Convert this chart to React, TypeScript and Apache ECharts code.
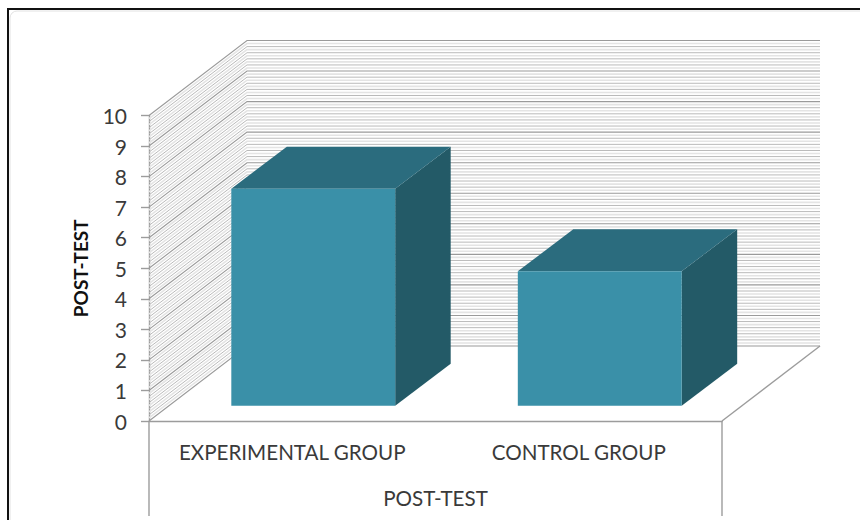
import React, { useEffect, useRef } from "react";
import * as echarts from "echarts";

const categories = ["EXPERIMENTAL GROUP", "CONTROL GROUP"];
const postTest = [7.1, 4.4];
const yTicks = [0, 1, 2, 3, 4, 5, 6, 7, 8, 9, 10];
const xAxisTitle = "POST-TEST";
const yAxisTitle = "POST-TEST";

// Oblique projection of the chart box: how far the back wall sits from the front plane.
const BOX_DX = 98;
const BOX_DY = -75;
// The columns stand inside the box, between the front plane and the back wall.
const BAR_INSET_DX = 21;
const BAR_INSET_DY = -15.3;
const BAR_DEPTH_DX = 55.5;
const BAR_DEPTH_DY = -42;
const BAR_WIDTH_RATIO = 0.572;

const FRONT_COLOR = "#3a90a8";
const TOP_COLOR = "#2b6c7e";
const SIDE_COLOR = "#235a67";
const TEXT_COLOR = "#3a3a3a";
const AXIS_COLOR = "#9c9c9c";

// Walls: one polyline per level, running along the side wall and then across the back wall.
function renderWallLevels(params: any, api: any) {
  const tick = api.value(1) as number;
  const left = params.coordSys.x;
  const right = left + params.coordSys.width;
  const children: any[] = [];
  const steps = tick === yTicks[yTicks.length - 1] ? 1 : 10;
  for (let k = 0; k < steps; k++) {
    const y = api.coord([0, tick + k / 10])[1];
    const major = k === 0;
    const stroke = major ? "#9a9a9a" : k % 2 === 0 ? "#bababa" : "#e4e4e4";
    const width = major ? 1.1 : k % 2 === 0 ? 1 : 1.6;
    children.push({
      type: "polyline",
      silent: true,
      shape: {
        points: [
          [left, y],
          [left + BOX_DX, y + BOX_DY],
          [right + BOX_DX, y + BOX_DY],
        ],
      },
      style: { fill: "none", stroke, lineWidth: width },
    });
  }
  return { type: "group", children };
}

// A column drawn as three faces: front, top and right side.
function renderColumn(_params: any, api: any) {
  const base = api.coord([api.value(0), 0]);
  const top = api.coord([api.value(0), api.value(1)]);
  const w = api.size([1, 0])[0] * BAR_WIDTH_RATIO;
  const x0 = base[0] + BAR_INSET_DX - w / 2;
  const x1 = x0 + w;
  const yb = base[1] + BAR_INSET_DY;
  const yt = top[1] + BAR_INSET_DY;
  const dx = BAR_DEPTH_DX;
  const dy = BAR_DEPTH_DY;
  return {
    type: "group",
    children: [
      {
        type: "polygon",
        shape: { points: [[x1, yt], [x1 + dx, yt + dy], [x1 + dx, yb + dy], [x1, yb]] },
        style: { fill: SIDE_COLOR },
      },
      {
        type: "polygon",
        shape: { points: [[x0, yt], [x0 + dx, yt + dy], [x1 + dx, yt + dy], [x1, yt]] },
        style: { fill: TOP_COLOR },
      },
      {
        type: "rect",
        shape: { x: x0, y: yt, width: w, height: yb - yt },
        style: { fill: FRONT_COLOR },
      },
    ],
  };
}

export default function App() {
  const ref = useRef<HTMLDivElement>(null);

  useEffect(() => {
    const chart = echarts.init(ref.current!, undefined, { renderer: "svg" });
    const line = (x1: number, y1: number, x2: number, y2: number) => ({
      type: "line",
      silent: true,
      z: 5,
      shape: { x1, y1, x2, y2 },
      style: { stroke: AXIS_COLOR, lineWidth: 1.4 },
    });
    chart.setOption({
      animation: false,
      backgroundColor: "#ffffff",
      textStyle: { fontFamily: "Lato" },
      grid: { left: 149, right: 138, top: 115.5, bottom: 99, containLabel: false },
      xAxis: {
        type: "category",
        data: categories,
        name: xAxisTitle,
        nameLocation: "middle",
        nameGap: 66,
        nameTextStyle: { fontSize: 20.6, color: TEXT_COLOR, fontFamily: "Lato" },
        axisLine: { show: true, lineStyle: { color: AXIS_COLOR, width: 1.4 } },
        axisTick: { show: false },
        axisLabel: { fontSize: 20.6, color: TEXT_COLOR, margin: 20, interval: 0, fontFamily: "Lato" },
      },
      yAxis: {
        type: "value",
        min: 0,
        max: 10,
        interval: 1,
        name: yAxisTitle,
        nameLocation: "middle",
        nameGap: 59,
        nameTextStyle: { fontSize: 19, fontWeight: "bold", color: "#111111", fontFamily: "Lato" },
        axisLine: { show: true, lineStyle: { color: AXIS_COLOR, width: 1.4 } },
        axisTick: { show: true, length: 8, lineStyle: { color: AXIS_COLOR, width: 1.4 } },
        axisLabel: { fontSize: 21, color: TEXT_COLOR, margin: 22, fontFamily: "Lato" },
        splitLine: { show: false },
      },
      series: [
        {
          type: "custom",
          name: "walls",
          silent: true,
          clip: false,
          z: 1,
          renderItem: renderWallLevels,
          encode: { x: 0, y: 1 },
          data: yTicks.map((t) => [0, t]),
        },
        {
          type: "custom",
          name: "POST-TEST",
          clip: false,
          z: 3,
          renderItem: renderColumn,
          encode: { x: 0, y: 1 },
          data: postTest.map((v, i) => [i, v]),
        },
      ],
      graphic: [
        // Outer frame, running off the right and bottom of the page.
        {
          type: "rect",
          silent: true,
          z: 0,
          shape: { x: 8, y: 9, width: 900, height: 600 },
          style: { fill: "none", stroke: "#111111", lineWidth: 2 },
        },
        // Faint rounded edge just inside the frame.
        {
          type: "rect",
          silent: true,
          z: 0,
          shape: { x: 10, y: 11, width: 900, height: 600, r: 7 },
          style: { fill: "none", stroke: "#e2e2e2", lineWidth: 1 },
        },
        // Table-like box under the category axis and the floor's right edge.
        line(149, 421, 149, 516),
        line(722, 421, 722, 516),
        line(722, 421, 820, 346),
      ],
    });
    return () => chart.dispose();
  }, []);

  return (
    <div
      ref={ref}
      style={{ position: "absolute", left: 0, top: 0, width: 860, height: 520 }}
    />
  );
}
